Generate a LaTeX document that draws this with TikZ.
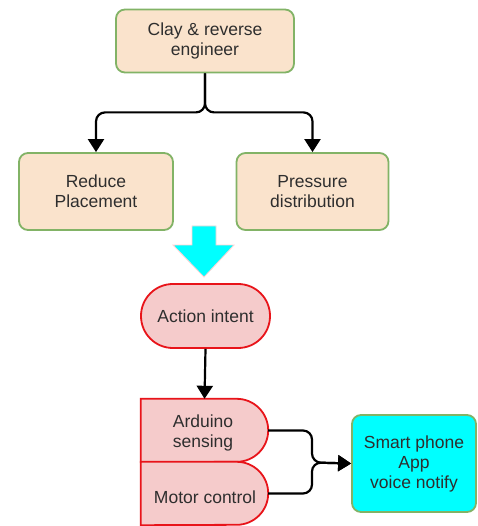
\documentclass[tikz,border=0pt]{standalone}
\usepackage{fontspec}
\setmainfont{Liberation Sans}
\usetikzlibrary{arrows.meta}
\definecolor{beige}{HTML}{FAE3CC}
\definecolor{grn}{HTML}{82B366}
\definecolor{pinkf}{HTML}{F5CBCB}
\definecolor{redb}{HTML}{E8141A}
\definecolor{txt}{HTML}{2E2E2E}
\definecolor{cyanf}{HTML}{00FFFF}
\begin{document}
\begin{tikzpicture}[x=1pt,y=-1pt,
  lbl/.style={font=\fontsize{17.5}{20}\selectfont, text=txt, align=center, inner sep=0pt},
  gbox/.style={lbl, draw=grn, fill=beige, line width=1.8pt, rounded corners=9pt},
  conn/.style={line width=2.2pt, black, rounded corners=9pt},
  tip/.style={-{Triangle[length=13pt,width=16pt]}},
  redshape/.style={draw=redb, fill=pinkf, line width=1.8pt}
]
\clip (0,0) rectangle (477,526);
\fill[white] (0,0) rectangle (477,526);

\node[gbox, minimum width=178pt, minimum height=63pt] (clay) at (205,41) {Clay \& reverse\\engineer};
\node[gbox, minimum width=154pt, minimum height=77pt] (reduce) at (96,191.5) {Reduce\\Placement};
\node[gbox, minimum width=152pt, minimum height=77pt] (press) at (312.5,191.5) {Pressure\\distribution};

\draw[conn,tip] (clay.south) -- ++(0,39) -| (reduce.north);
\draw[conn,tip] (clay.south) -- ++(0,39) -| (press.north);

% big cyan arrow
\draw[draw=pink!70, fill=cyanf, line width=0.8pt]
  (192,226) -- (216,226) -- (216,245) -- (234,245) -- (204,277) -- (173,245) -- (192,245) -- cycle;

\node[lbl, draw=redb, fill=pinkf, line width=1.8pt, rounded corners=31.9pt,
      minimum width=129pt, minimum height=64pt] (act) at (205.5,316) {Action intent};

\node[lbl, minimum width=127pt, minimum height=63pt] (ard) at (204.5,430.5) {};
\node[lbl, minimum width=127pt, minimum height=63pt] (mot) at (204.5,493.5) {};
\path[redshape] (ard.north west) -- ([xshift=-31.5pt]ard.north east)
   arc[start angle=90, end angle=-90, radius=31.5pt] -- (ard.south west) -- cycle;
\path[redshape] (mot.north west) -- ([xshift=-31.5pt]mot.north east)
   arc[start angle=90, end angle=-90, radius=31.5pt] -- (mot.south west) -- cycle;
\node[lbl] (ardt) at (203,433) {Arduino\\sensing};
\node[lbl] (mott) at (205,497) {Motor control};

\draw[conn,tip] (act.south) -- (ard.north);

\node[lbl, draw=grn, fill=cyanf, line width=1.8pt, rounded corners=9pt,
      minimum width=124pt, minimum height=97pt] (phone) at (414,463.5) {Smart phone\\App\\voice notify};

\coordinate (j) at (312,462.5);
\draw[conn,tip] (ard.east) -| (j) -- (phone.west);
\draw[conn,tip] (mot.east) -| (j) -- (phone.west);
\end{tikzpicture}
\end{document}
